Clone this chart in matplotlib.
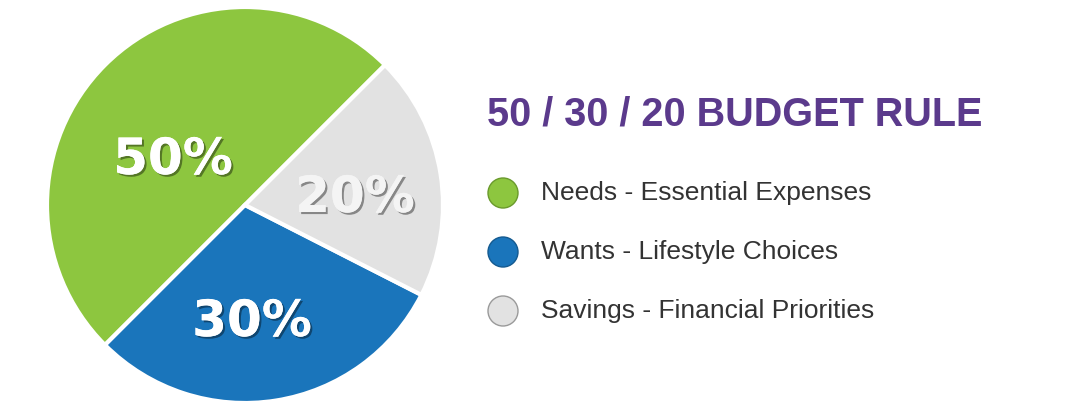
import matplotlib
matplotlib.use("Agg")
import matplotlib.pyplot as plt
import matplotlib.patheffects as pe
from matplotlib.patches import Circle

labels = ["Needs - Essential Expenses", "Wants - Lifestyle Choices", "Savings - Financial Priorities"]
values = [50, 30, 20]
pct_labels = ["50%", "30%", "20%"]
colors = ["#8dc63f", "#1a75bb", "#e2e2e2"]
title = "50 / 30 / 20 BUDGET RULE"

W, H = 1068, 409
fig = plt.figure(figsize=(W/100, H/100), dpi=100)
fig.patch.set_facecolor("white")

cx, cy, r = 245, 205, 198
ax = fig.add_axes([(cx-r)/W, (H-cy-r)/H, 2*r/W, 2*r/H])
ax.pie(values, colors=colors, startangle=45, counterclock=True, radius=1,
       wedgeprops=dict(edgecolor="white", linewidth=3))
ax.set_xlim(-1, 1); ax.set_ylim(-1, 1); ax.set_aspect("auto")

pos = [(173, 160), (252, 322), (355, 198)]
tcol = ["white", "white", "#f4f4f4"]
for (px, py), t, c in zip(pos, pct_labels, tcol):
    fig.text(px/W, 1-py/H, t, ha="center", va="center", color=c, fontsize=36,
             fontweight="bold", family=["Liberation Sans Narrow", "DejaVu Sans"],
             path_effects=[pe.withSimplePatchShadow(offset=(1.5, -1.5), shadow_rgbFace="black", alpha=0.4), pe.Normal()])

fig.text(487/W, 1-115/H, title, ha="left", va="center", color="#5b3a8c",
         fontsize=28.5, fontweight="bold", family="Liberation Sans")

ys = [193, 252, 311]
lax = fig.add_axes([0, 0, 1, 1]); lax.set_xlim(0, W); lax.set_ylim(H, 0); lax.axis("off")
edge = ["#6a9a2c", "#145a90", "#9a9a9a"]
for y, lab, c, e in zip(ys, labels, colors, edge):
    lax.add_patch(Circle((503, y), 15, facecolor=c, edgecolor=e, linewidth=1))
    lax.text(541, y, lab, ha="left", va="center", fontsize=19, color="#333333", family="Liberation Sans")

fig.savefig("out.png", dpi=100)
